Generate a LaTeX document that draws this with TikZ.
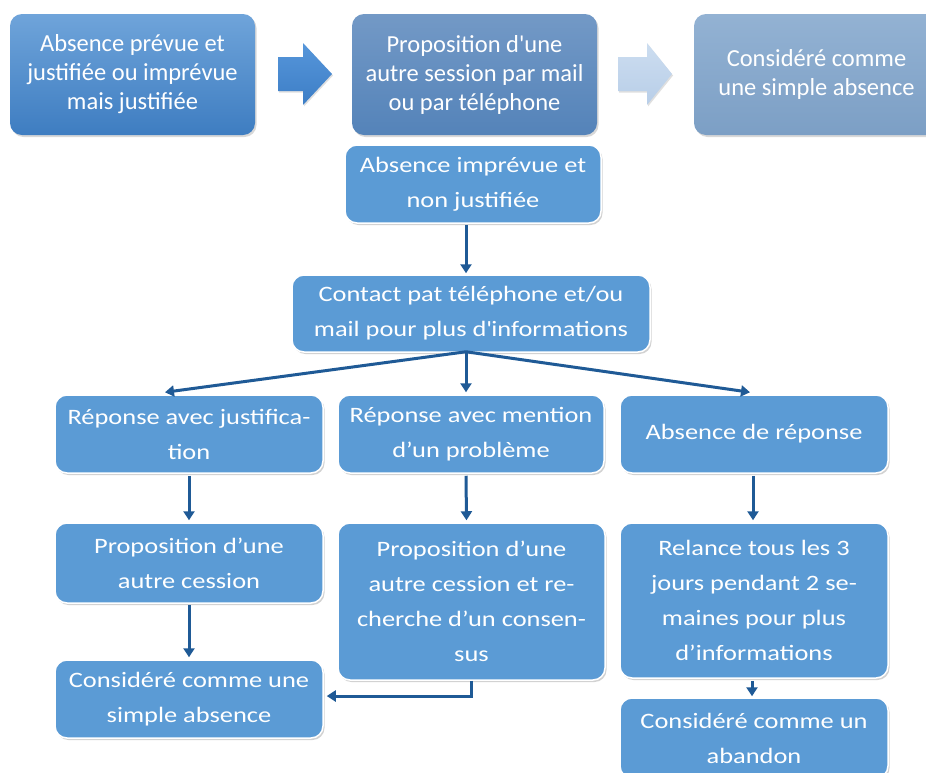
\documentclass[tikz,border=0pt]{standalone}
\usepackage{fontspec}
\setmainfont{Carlito}
\newfontfamily\wfont[FakeStretch=1.2]{Carlito}
\usetikzlibrary{shadows,arrows.meta,calc}
\definecolor{boxblue}{HTML}{5B9BD5}
\definecolor{arrc}{HTML}{1F5A96}
\definecolor{aTop}{HTML}{6FA4DA}
\definecolor{aBot}{HTML}{3E7DC1}
\definecolor{bTop}{HTML}{7399C6}
\definecolor{bBot}{HTML}{5483B9}
\definecolor{cTop}{HTML}{93B2D3}
\definecolor{cBot}{HTML}{7C9FC5}
\definecolor{chA}{HTML}{5696DA}
\definecolor{chAb}{HTML}{3D7EC6}
\definecolor{chB}{HTML}{CCDDF0}
\definecolor{chBb}{HTML}{B8CEE8}
\tikzset{
  lbox/.style={draw=white, line width=1.5pt, fill=boxblue, rounded corners=12pt,
    text=white, align=center, inner sep=0pt,
    font=\wfont\fontsize{22}{35}\selectfont,
    drop shadow={shadow xshift=1.5pt, shadow yshift=-2pt, opacity=0.35}},
  tbox/.style={rounded corners=12pt, text=white, align=center, inner sep=0pt,
    font=\fontsize{24.5}{29}\selectfont,
    drop shadow={shadow xshift=1.5pt, shadow yshift=-2pt, opacity=0.3}},
  arr/.style={draw=arrc, line width=3pt, -{Triangle[length=9pt,width=11pt]}},
  chev/.style={drop shadow={shadow xshift=1pt, shadow yshift=-1.5pt, opacity=0.25}}
}
\begin{document}
\begin{tikzpicture}[x=1pt,y=-1pt]
\useasboundingbox (0,0) rectangle (926,772);
\fill[white] (0,0) rectangle (926,772);
\clip (0,0) rectangle (926,772);

% top row
\node[tbox, top color=aTop, bottom color=aBot, minimum width=245pt, minimum height=121pt]
  (A) at (132.5,74.5) {Absence prévue et\\justifiée ou imprévue\\mais justifiée};
\node[tbox, top color=bTop, bottom color=bBot, minimum width=245pt, minimum height=121pt]
  (B) at (474.5,74.5) {Proposition d\textquotesingle une\\autre session par mail\\ou par téléphone};
\node[tbox, top color=cTop, bottom color=cBot, minimum width=245pt, minimum height=121pt]
  (C) at (816.5,74.5) {Considéré comme\\une simple absence};

\path[chev, top color=chA, bottom color=chAb]
  (278,57) -- (303,57) -- (303,43) -- (332,74) -- (303,105) -- (303,91) -- (278,91) -- cycle;
\path[chev, top color=chB, bottom color=chBb]
  (618,57) -- (647,57) -- (647,43) -- (672,74) -- (647,105) -- (647,91) -- (618,91) -- cycle;

% middle
\node[lbox, minimum width=256pt, minimum height=78pt] (D) at (473,184)
  {Absence imprévue et\\non justifiée};
\node[lbox, minimum width=358pt, minimum height=77pt] (E) at (471,313.5)
  {Contact pat téléphone et/ou\\mail pour plus d\textquotesingle informations};

% third row
\node[lbox, minimum width=268pt, minimum height=78pt] (F) at (189,434)
  {Réponse avec justifica-\\tion};
\node[lbox, minimum width=266pt, minimum height=78pt] (G) at (471,434)
  {Réponse avec mention\\d’un problème};
\node[lbox, minimum width=268pt, minimum height=78pt] (H) at (754,434)
  {Absence de réponse};

% fourth row
\node[lbox, minimum width=268pt, minimum height=80pt] (I) at (189,563)
  {Proposition d’une\\autre cession};
\node[lbox, minimum width=267pt, minimum height=157pt] (J) at (471.5,601.5)
  {Proposition d’une\\autre cession et re-\\cherche d’un consen-\\sus};
\node[lbox, minimum width=268pt, minimum height=155pt] (K) at (754,600.5)
  {Relance tous les 3\\jours pendant 2 se-\\maines pour plus\\d’informations};

% bottom
\node[lbox, minimum width=268pt, minimum height=78pt] (L) at (189,699)
  {Considéré comme une\\simple absence};
\node[lbox, minimum width=268pt, minimum height=80pt] (M) at (754,738)
  {Considéré comme un\\abandon};

% connectors
\draw[arr] ($(D.south)+(-7,1)$) -- ($(E.north)+(-5,-1)$);
\draw[arr] ($(E.south)+(-5,-1)$) -- ($(F.north)+(-24,-2)$);
\draw[arr] ($(E.south)+(-5,-1)$) -- ($(G.north)+(-5,-2)$);
\draw[arr] ($(E.south)+(-5,-1)$) -- ($(H.north)+(-4,-2)$);
\draw[arr] ($(F.south)+(0,2)$) -- ($(I.north)+(0,-2)$);
\draw[arr] ($(G.south)+(-5,2)$) -- ($(J.north)+(-5,-2)$);
\draw[arr] ($(H.south)+(-1,2)$) -- ($(K.north)+(-1,-2)$);
\draw[arr] ($(I.south)+(0,1)$) -- ($(L.north)+(0,-2)$);
\draw[arr] (J.south) |- ($(L.east)+(3,-3)$);
\draw[arr] ($(K.south)+(-2,2)$) -- ($(M.north)+(-2,-1)$);
\end{tikzpicture}
\end{document}
